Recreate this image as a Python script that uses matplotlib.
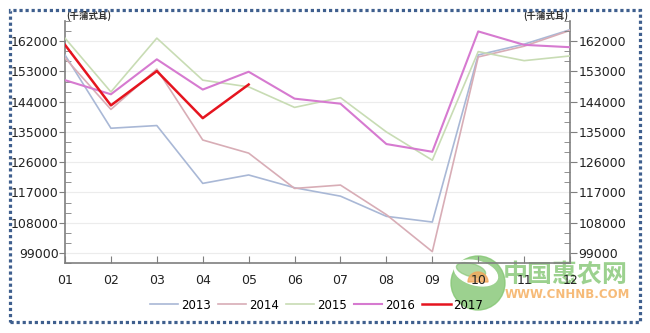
import numpy as np
import matplotlib
matplotlib.use("Agg")
import matplotlib.pyplot as plt
from matplotlib.patches import Rectangle, Circle, Wedge, Ellipse
from matplotlib.transforms import IdentityTransform

plt.rcParams['font.family'] = ['DejaVu Sans', 'Noto Sans CJK SC']

months = ["01", "02", "03", "04", "05", "06", "07", "08", "09", "10", "11", "12"]
years = ["2013", "2014", "2015", "2016", "2017"]
y2013 = [157900, 136100, 136900, 119700, 122200, 118400, 115900, 109900, 108200, 157900, 161100, 165400]
y2014 = [157000, 141700, 153700, 132600, 128700, 118200, 119200, 110400, 99400, 157300, 160500, 165200]
y2015 = [162900, 146900, 162900, 150400, 148400, 142300, 145200, 135000, 126600, 158900, 156200, 157600]
y2016 = [150400, 146200, 156600, 147600, 152900, 144900, 143400, 131400, 129100, 164900, 160900, 160200]
y2017 = [160900, 142900, 153100, 139100, 149100]
yticks = [99000, 108000, 117000, 126000, 135000, 144000, 153000, 162000]
unit = "(千蒲式耳)"

colors = ["#a9b8d6", "#d8adb6", "#c8dcb4", "#d67ad0", "#e5141f"]
widths = [1.2, 1.2, 1.2, 1.5, 1.8]

fig = plt.figure(figsize=(6.5, 3.33), dpi=100)
ax = fig.add_axes([0.1, 0.21, 0.777, 0.727])
ax.patch.set_facecolor("none")

x = np.arange(len(months))
series = [y2013, y2014, y2015, y2016, y2017]
for name, vals, c, w in zip(years, series, colors, widths):
    ax.plot(x[:len(vals)], vals, color=c, lw=w, label=name, zorder=3)

ax.set_xlim(0, 11)
ax.set_ylim(96000, 168000)
ax.set_xticks(x)
ax.set_xticklabels(months)
ax.set_yticks(yticks)
ax.set_yticks(np.arange(96000, 168001, 3000), minor=True)
ax.yaxis.grid(True, color="#ececec", lw=0.8, zorder=0)

axis_grey = "#7f7f7f"
for s in ["left", "bottom", "right"]:
    ax.spines[s].set_color(axis_grey)
    ax.spines[s].set_linewidth(1.2)
ax.spines["top"].set_visible(False)

ax.tick_params(axis="x", direction="in", length=5, color=axis_grey, pad=8,
               labelsize=9, labelcolor="#222222")
ax.tick_params(axis="y", which="major", direction="out", length=4, color=axis_grey,
               pad=0.5, labelsize=9, labelcolor="#222222")
ax.tick_params(axis="y", which="minor", direction="in", length=4, color=axis_grey)

ax2 = ax.twinx()
ax2.patch.set_facecolor("none")
ax2.set_ylim(ax.get_ylim())
ax2.set_yticks(yticks)
ax2.set_yticks(np.arange(96000, 168001, 3000), minor=True)
for s in ax2.spines.values():
    s.set_visible(False)
ax2.tick_params(axis="y", which="major", direction="out", length=5, color=axis_grey,
                pad=1, labelsize=9, labelcolor="#222222")
ax2.tick_params(axis="y", which="minor", direction="in", length=4, color=axis_grey)

ax.text(0.003, 1.0, unit, transform=ax.transAxes, fontsize=6.8, fontweight="bold",
        family=["Noto Sans CJK SC", "DejaVu Sans"], ha="left", va="bottom", color="#333333")
ax.text(0.997, 1.0, unit, transform=ax.transAxes, fontsize=6.8, fontweight="bold",
        family=["Noto Sans CJK SC", "DejaVu Sans"], ha="right", va="bottom", color="#333333")

fig.legend(loc="center", bbox_to_anchor=(0.487, 0.084), ncol=5, frameon=False,
           fontsize=8.5, handlelength=2.4, handletextpad=0.25, columnspacing=0.6)

# watermark logo in pixel space (origin bottom-left), kept under the axes
H = 333
px = IdentityTransform()
logo_green = "#84c673"
cx, cy = 478, H - 283
fig.add_artist(Circle((cx, cy), 27, color=logo_green, alpha=0.8, transform=px, zorder=-2))
fig.add_artist(Ellipse((cx - 2, cy + 10), 44, 24, angle=-15, color="white", transform=px, zorder=-1.9))
fig.add_artist(Ellipse((cx - 7, cy + 13), 30, 13, angle=-15, color=logo_green, alpha=0.65,
                       transform=px, zorder=-1.8))
fig.add_artist(Wedge((cx, cy + 1), 10, 0, 180, color="#f2a75b", alpha=0.8, transform=px, zorder=-1.8))
fig.text(503 / 650, 1 - 275 / H, "中国惠农网", fontsize=18, fontweight="bold", color=logo_green,
         family=["Noto Sans CJK SC", "DejaVu Sans"], ha="left", va="center", alpha=0.8, zorder=-1.5)
fig.text(505 / 650, 1 - 294 / H, "WWW.CNHNB.COM", fontsize=8.5, fontweight="bold",
         color="#f6b46a", ha="left", va="center", alpha=0.9, zorder=-1.5)

# dotted frame around the whole chart
fig.add_artist(Rectangle((10, 11), 630, 312, fill=False, edgecolor="#3f5f8e", lw=2.3,
                         linestyle=(0, (1, 0.9)), transform=px, zorder=14))

fig.savefig("out.png", dpi=100)
